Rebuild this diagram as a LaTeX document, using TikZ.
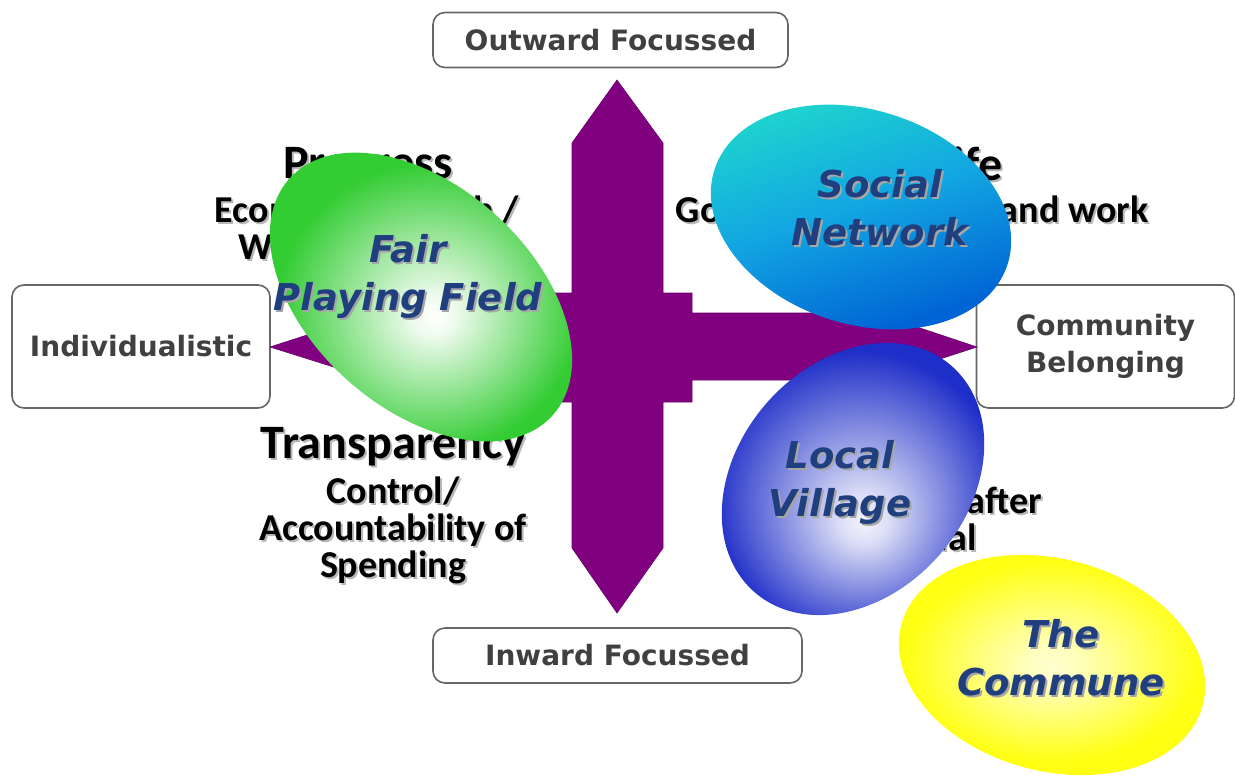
\documentclass[tikz,border=0pt]{standalone}
\usepackage{fontspec}
\setmainfont{Carlito}
\newfontfamily\verd{DejaVu Sans}
\usetikzlibrary{positioning,shapes.geometric}

\definecolor{crosspurple}{HTML}{800080}
\definecolor{labelblue}{HTML}{1F3F7F}
\definecolor{boxgray}{HTML}{404040}
\definecolor{fairgreen}{HTML}{33CC33}
\definecolor{villageblue}{HTML}{1E2EC8}
\definecolor{communeyellow}{HTML}{FFFF14}
\definecolor{socialtop}{HTML}{20D8CC}
\definecolor{socialmid}{HTML}{12A6E2}
\definecolor{socialbot}{HTML}{0064D4}

\pgfdeclareradialshading{fairglow}{\pgfpoint{2bp}{-3bp}}{color(0bp)=(white); color(3bp)=(white!92!fairgreen); color(22bp)=(fairgreen); color(50bp)=(fairgreen)}
\pgfdeclareradialshading{villageglow}{\pgfpoint{2bp}{-9bp}}{color(0bp)=(white!94!villageblue); color(4bp)=(white!85!villageblue); color(25bp)=(villageblue); color(50bp)=(villageblue)}
\pgfdeclareradialshading{communeglow}{\pgfpoint{0bp}{-3bp}}{color(0bp)=(white!82!yellow); color(4bp)=(white!72!communeyellow); color(22bp)=(communeyellow); color(50bp)=(communeyellow)}

\tikzset{
    sidebox/.style = {
        draw=black!60,
        fill=white,
        line width=0.8pt,
        rounded corners=6pt,
        align=center,
        text=boxgray,
        font=\verd\bfseries\fontsize{14}{18.5}\selectfont
    },
    blob/.style = {
        shape=ellipse,
        inner sep=0pt
    },
    blobtext/.style = {
        align=center,
        font=\verd\bfseries\itshape\fontsize{18.5}{24}\selectfont
    },
    heading/.style = {
        anchor=base,
        font=\bfseries\fontsize{24}{28}\selectfont
    },
    detail/.style = {
        align=center,
        font=\bfseries\fontsize{19}{18.5}\selectfont
    }
}

\begin{document}
\begin{tikzpicture}[x=0.5pt,y=-0.5pt]
            \useasboundingbox[fill=white] (0,0) rectangle (1235,781);

            \node[sidebox, minimum width=177.5pt, minimum height=27.5pt] (outward) at (610.5,40) {Outward Focussed};
            \node[sidebox, minimum width=184.5pt, minimum height=27.5pt] (inward) at (617.5,655.5) {Inward Focussed};
            \node[sidebox, minimum width=129pt, minimum height=61.5pt] (indiv) at (141,346.5) {Individualistic};
            \node[sidebox, minimum width=129pt, minimum height=61.5pt] (commun) at (1105.5,346.5) {Community\\Belonging};

            \fill[crosspurple, draw=crosspurple!85!black, line width=0.3pt]
                (617,80) -- (663,143) -- (663,293) -- (692,293) -- (692,313) -- (875,313)
                -- (977,347) -- (875,380) -- (692,380) -- (692,402) -- (663,402) -- (663,548)
                -- (617,613) -- (572,548) -- (572,402) -- (545,402) -- (545,380) -- (375,380)
                -- (270,347) -- (375,313) -- (545,313) -- (545,293) -- (572,293) -- (572,143) -- cycle;

            \foreach \off/\tint in {2/black!28, 0/black} {
                \begin{scope}[shift={(\off,\off)}, text=\tint]
                    \node[heading] (progress) at (368,178) {Progress};
                    \node[detail] (growth) at (367,228) {Economic Growth /\\Wealth Creation};
                    \node[heading, anchor=base east] (worklife) at (1010,180) {Work/Life};
                    \node[detail, anchor=base] (balance) at (912,222) {Good balance of life and work};
                    \node[heading] (transp) at (393,458) {Transparency};
                    \node[detail] (spending) at (393,530) {Control/\\Accountability of\\Spending};
                    \node[detail] (cared) at (898,519) {Being looked after\\Individual};
                \end{scope}
            }

            \node[blob, minimum width=177pt, minimum height=111pt, rotate=-42, shading=fairglow] (fair) at (421,297) {};
            \node[blob, minimum width=154pt, minimum height=107pt, rotate=-18, top color=socialtop, bottom color=socialbot, middle color=socialmid, shading angle=18] (social) at (861,217) {};
            \node[blob, minimum width=150pt, minimum height=115pt, rotate=49, shading=villageglow] (village) at (853,479) {};
            \node[blob, minimum width=156pt, minimum height=106pt, rotate=-15, shading=communeglow] (commune) at (1052,665) {};

            \foreach \off/\tint in {2/black!35, 0/labelblue} {
                \begin{scope}[shift={(\off,\off)}, text=\tint]
                    \node[blobtext] (fairlbl) at (408,276) {Fair\\Playing Field};
                    \node[blobtext] (sociallbl) at (880,208) {Social\\Network};
                    \node[blobtext] (villagelbl) at (840,482) {Local\\Village};
                    \node[blobtext] (communelbl) at (1061,658) {The\\Commune};
                \end{scope}
            }
        \end{tikzpicture}
\end{document}
